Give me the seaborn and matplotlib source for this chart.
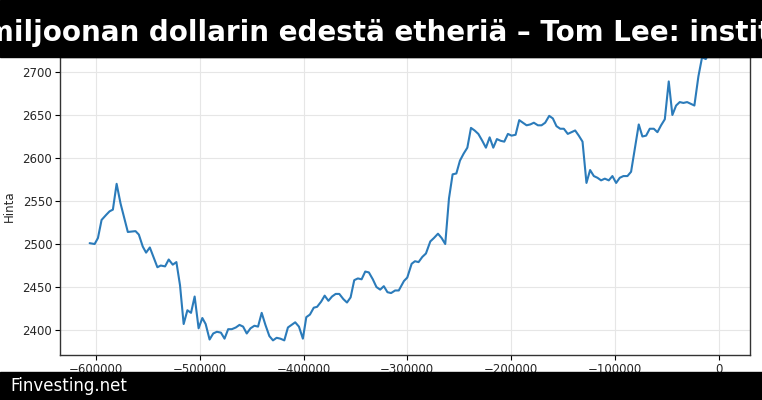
import numpy as np
import pandas as pd
import matplotlib
matplotlib.use("Agg")
import matplotlib.pyplot as plt
import seaborn as sns

# time in seconds relative to now, ETH price
seconds = [
    -606100, -601300, -598100, -594600, -590100, -586900, -583700, -580100, -576300, -573100,
    -569300, -561900, -558700, -554900, -551700, -548100, -540800, -537600, -533400, -529900,
    -526000, -522500, -519000, -515500, -511900, -508400, -504900, -501100, -497500, -494300,
    -490500, -487000, -483500, -479600, -476100, -472600, -469100, -465200, -461700, -458200,
    -454700, -451100, -447300, -443800, -440300, -436700, -432900, -429400, -425900, -422300,
    -418500, -415000, -411500, -408000, -404400, -400600, -397300, -393800, -390100, -386900,
    -383000, -379600, -376000, -372500, -369000, -365500, -361600, -358100, -354600, -351100,
    -347600, -344000, -340500, -337000, -333200, -329700, -326100, -322600, -319100, -315600,
    -311700, -308200, -303200, -300000, -295800, -292600, -289100, -285500, -282000, -277800,
    -274300, -270400, -266900, -263400, -259800, -256300, -252700, -249200, -245700, -242100,
    -238600, -235100, -231500, -227700, -224200, -220600, -217100, -213600, -210000, -206500,
    -203000, -199500, -195600, -192100, -188600, -185000, -181500, -178000, -174100, -170600,
    -167100, -163200, -159700, -156200, -152600, -149100, -145300, -141700, -138200, -134700,
    -131100, -127300, -123800, -120200, -116700, -113200, -109600, -105800, -102300, -98700,
    -95200, -91700, -87800, -84300, -76900, -73400, -69800, -66300, -62400, -58900,
    -55400, -51800, -48000, -44500, -40900, -37400, -33900, -30300, -26800, -23300,
    -19400, -15900, -12300, -9100, -4500, 0,
]
price = [
    2501, 2500, 2507, 2528, 2534, 2538, 2540, 2570, 2547, 2532,
    2514, 2515, 2511, 2497, 2490, 2496, 2473, 2475, 2474, 2482,
    2476, 2479, 2452, 2407, 2423, 2420, 2439, 2402, 2414, 2407,
    2389, 2396, 2398, 2397, 2390, 2401, 2401, 2403, 2406, 2404,
    2396, 2402, 2405, 2404, 2420, 2406, 2393, 2388, 2391, 2390,
    2388, 2403, 2406, 2409, 2404, 2390, 2415, 2418, 2426, 2427,
    2433, 2440, 2434, 2439, 2442, 2442, 2436, 2432, 2438, 2458,
    2460, 2459, 2468, 2467, 2459, 2450, 2447, 2451, 2444, 2443,
    2446, 2446, 2457, 2461, 2477, 2480, 2479, 2485, 2489, 2503,
    2507, 2512, 2507, 2500, 2553, 2581, 2582, 2597, 2605, 2612,
    2635, 2632, 2628, 2620, 2612, 2624, 2612, 2622, 2620, 2619,
    2628, 2626, 2627, 2644, 2641, 2638, 2639, 2641, 2638, 2638,
    2641, 2649, 2646, 2637, 2634, 2634, 2628, 2630, 2632, 2626,
    2619, 2571, 2586, 2579, 2577, 2574, 2576, 2574, 2579, 2571,
    2577, 2579, 2579, 2584, 2639, 2625, 2626, 2634, 2634, 2630,
    2638, 2645, 2689, 2650, 2661, 2665, 2664, 2665, 2663, 2661,
    2695, 2717, 2715, 2722, 2730, 2735,
]

title_text = "miljoonan dollarin edestä etheriä – Tom Lee: institutionaalinen kysyntä kasvaa"
footer_text = "Finvesting.net"

df = pd.DataFrame({"t": seconds, "Hinta": price})

sns.set_style("whitegrid")
fig = plt.figure(figsize=(7.62, 4.0), dpi=100)
ax = fig.add_axes([0.0787, 0.1125, 0.905, 0.745])
sns.lineplot(data=df, x="t", y="Hinta", ax=ax, color="#2b7bba", linewidth=1.5)

ax.set_xlim(-634700, 29900)
ax.set_ylim(2371, 2717.4)
ax.set_xlabel("")
ax.set_ylabel("Hinta", fontsize=8.5)
ax.yaxis.set_label_coords(-0.064, 0.5)
ax.tick_params(axis="both", labelsize=8.5, length=3.5, pad=2, color="black", left=True, bottom=True)
ax.grid(color="#e6e6e6", linewidth=0.8)
for s in ax.spines.values():
    s.set_color("#333333")
    s.set_linewidth(1.0)

# black title banner and footer
fig.patches.append(plt.Rectangle((0, 0.8575), 1, 0.1425, transform=fig.transFigure,
                                 color="black", zorder=5))
fig.patches.append(plt.Rectangle((0, 0), 1, 0.07, transform=fig.transFigure,
                                 color="black", zorder=5))
fig.text(-0.02, 0.918, title_text, color="white", fontsize=20, fontweight="bold",
         ha="left", va="center", zorder=6)
fig.text(0.014, 0.036, footer_text, color="white", fontsize=12, ha="left", va="center", zorder=6)

fig.savefig("out.png", dpi=100)
